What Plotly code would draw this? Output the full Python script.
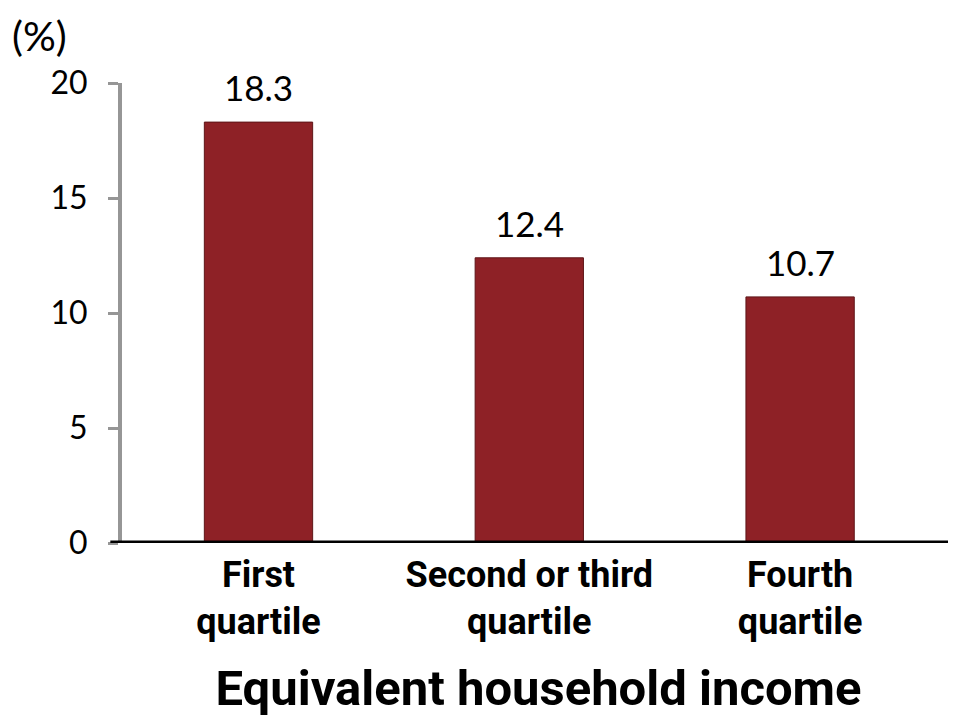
import plotly.graph_objects as go

categories = ["First<br>quartile", "Second or third<br>quartile", "Fourth<br>quartile"]
values = [18.3, 12.4, 10.7]
value_labels = ["18.3", "12.4", "10.7"]
y_ticks = [0, 5, 10, 15, 20]

x_pos = list(range(len(categories)))
cat_font = "Roboto, Liberation Sans, sans-serif"
num_font = "Lato, Open Sans, sans-serif"

fig = go.Figure()
fig.add_trace(go.Bar(
    x=x_pos, y=values, width=0.40,
    marker=dict(color="#8E2126", line=dict(color="#5E1518", width=1)),
    hoverinfo="skip",
))

for xp, v, lab in zip(x_pos, values, value_labels):
    fig.add_annotation(x=xp, y=v, text=lab, showarrow=False, yanchor="bottom",
                       yshift=12, font=dict(family=num_font, size=35, color="#000"))

# (%) label
fig.add_annotation(xref="paper", yref="paper", x=-0.134, y=1.161, xanchor="left", yanchor="top",
                   text="(%)", showarrow=False,
                   font=dict(family=num_font, size=41, color="#000"))

# x axis baseline extended
fig.add_shape(type="line", xref="paper", yref="y", x0=-0.014, x1=1.0, y0=0, y1=0,
              line=dict(color="#000", width=5), layer="above")

fig.update_layout(
    width=948, height=709,
    margin=dict(l=114, r=1, t=75, b=174),
    plot_bgcolor="white", paper_bgcolor="white",
    showlegend=False,
    xaxis=dict(
        range=[-0.504, 2.572], tickmode="array", tickvals=x_pos,
        ticktext=["<b>" + c.replace("<br>", "</b><br><b>") + "</b>" for c in categories],
        showline=False, showgrid=False, zeroline=False, ticks="", automargin=False,
        ticklabelstandoff=7,
        tickfont=dict(family=cat_font, size=36, color="#000"),
        title=dict(text="<b>Equivalent household income</b>", standoff=32,
                   font=dict(family=cat_font, size=49, color="#000")),
    ),
    yaxis=dict(
        range=[0, 20], tickmode="array", tickvals=y_ticks, ticktext=[str(t) for t in y_ticks],
        showline=True, linecolor="#969696", linewidth=4, automargin=False,
        ticks="outside", ticklen=10, tickwidth=3, tickcolor="#969696",
        showgrid=False, zeroline=False, ticklabelstandoff=14,
        tickfont=dict(family=num_font, size=32, color="#000"),
    ),
)

fig.write_html("out.html")
